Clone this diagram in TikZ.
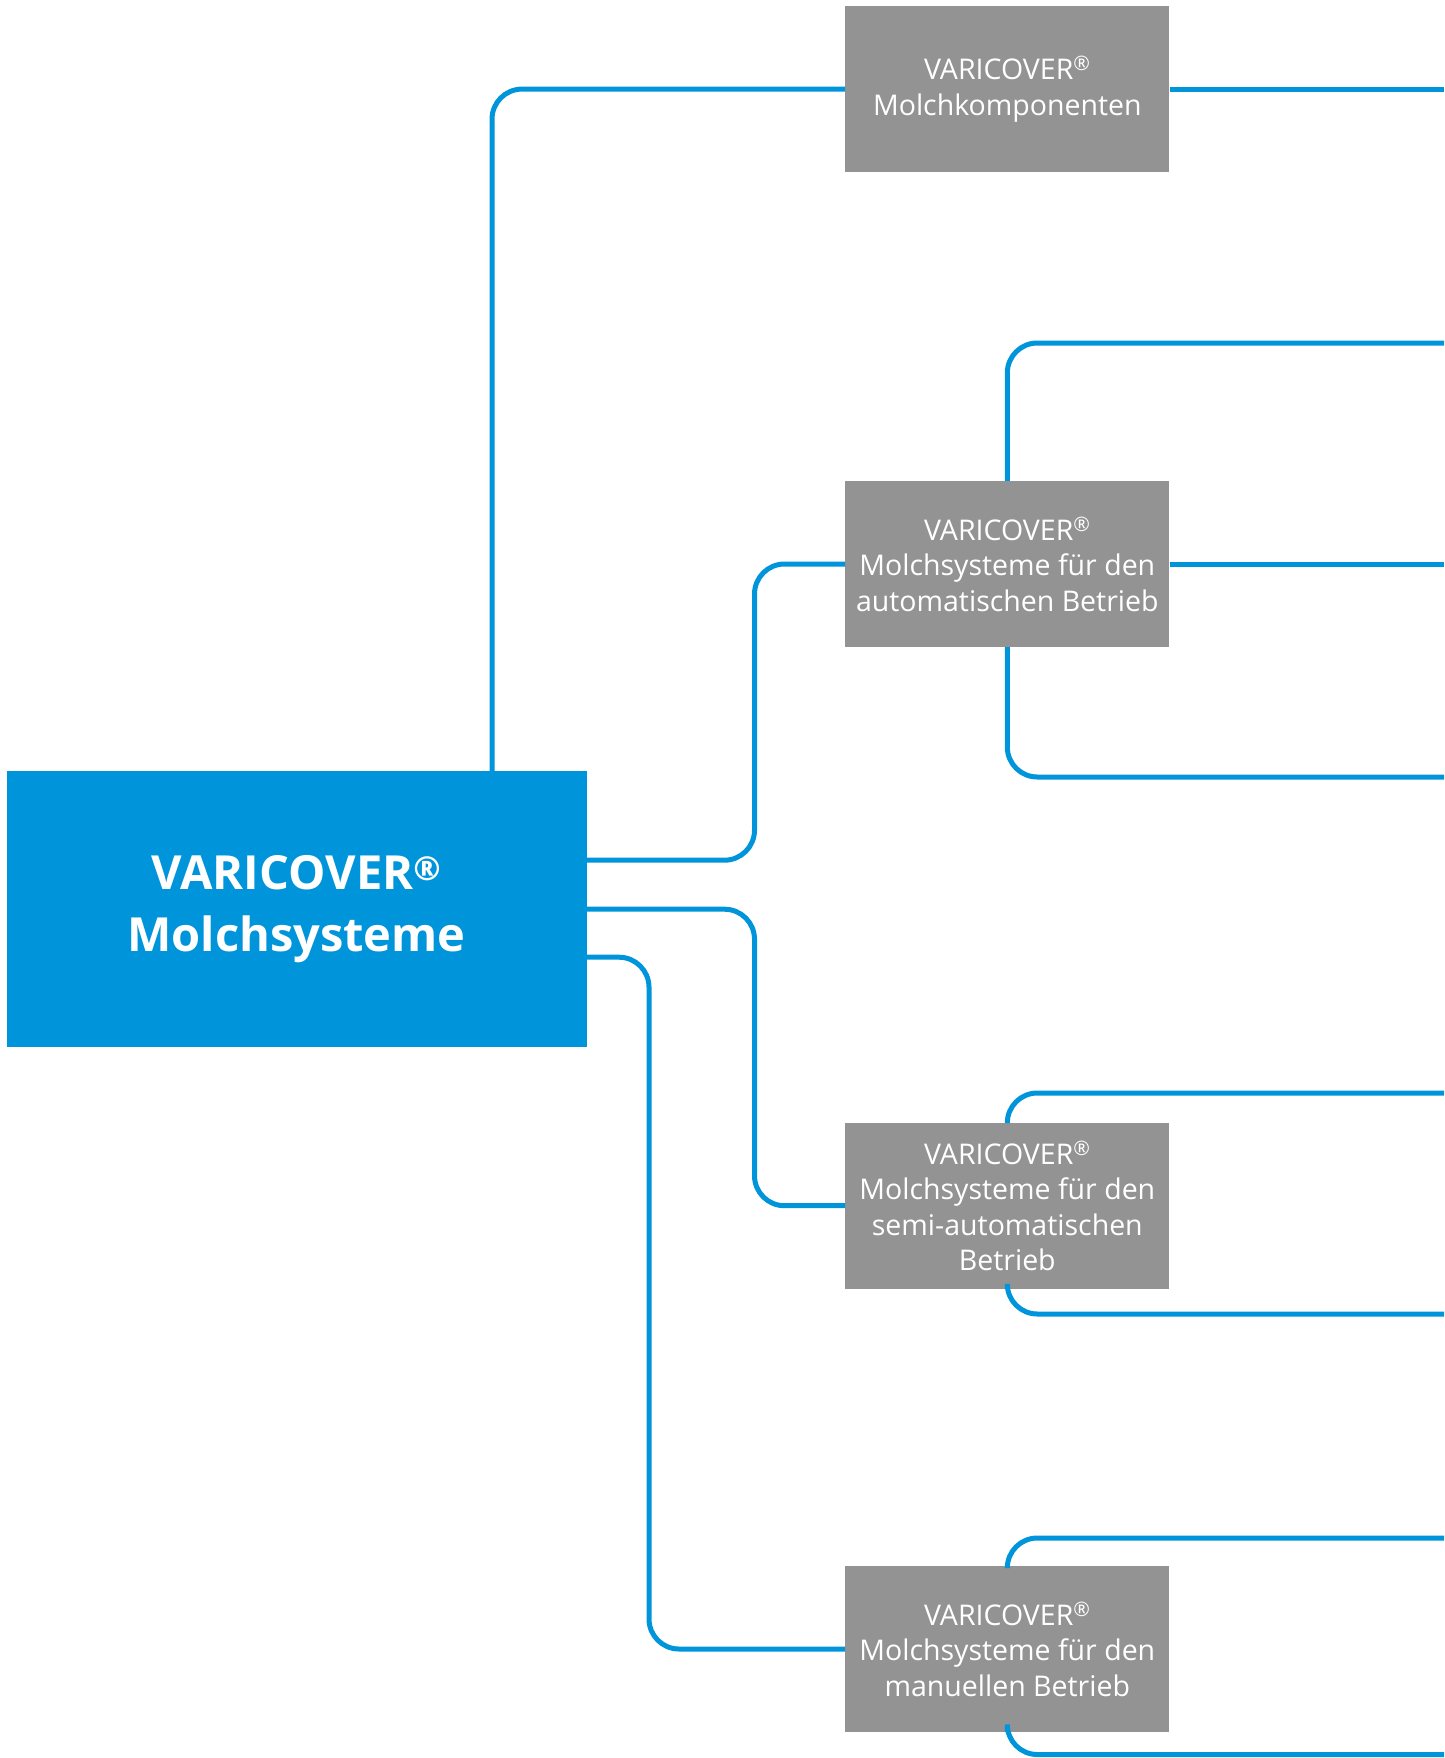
\documentclass[tikz,border=0pt]{standalone}
\usepackage{fontspec}
\setmainfont{Open Sans}
\usetikzlibrary{calc,%
		positioning}
\definecolor{varblau}{RGB}{0,149,218}
\definecolor{vargrau}{RGB}{147,147,147}
\newcommand{\reg}{\textsuperscript{®}}

\begin{document}
\begin{tikzpicture}[x=1pt,y=-1pt,
	kasten/.style={fill=vargrau,text=white,minimum width=324pt,minimum height=166pt,inner sep=0pt,align=center,font=\fontsize{28.5}{35.5}\selectfont},
	haupt/.style={fill=varblau,text=white,minimum width=580pt,minimum height=276pt,inner sep=0pt,align=center,font=\fontsize{47}{62}\selectfont\bfseries},
	linie/.style={draw=varblau,line width=5pt,rounded corners=30pt}]
\useasboundingbox (0,0) rectangle (1444,1758);

%i nodi
\node[haupt] (main) at(296.5,909.2){VARICOVER\reg\\Molchsysteme};
\node[kasten] (k1) at(1007.3,89.1){VARICOVER\reg\\Molchkomponenten};
\node[kasten] (k2) at(1007.3,564){VARICOVER\reg\\Molchsysteme für den\\automatischen Betrieb};
\node[kasten] (k3) at(1007.3,1205.7){VARICOVER\reg\\Molchsysteme für den\\semi-automatischen\\Betrieb};
\node[kasten] (k4) at(1007.3,1649){VARICOVER\reg\\Molchsysteme für den\\manuellen Betrieb};

%punti di appoggio
\coordinate (s1) at(492,0);
\coordinate (s2) at(754.5,0);
\coordinate (s3) at(649,0);
\coordinate (rand) at(1444,0);
\coordinate (o2) at(1444,343);
\coordinate (u2) at(1444,777);
\coordinate (o3) at(1444,1093);
\coordinate (u3) at(1444,1314);
\coordinate (o4) at(1444,1538);
\coordinate (u4) at(1444,1754.5);

%le linee dal centro
\draw[linie] (main.north -| s1) |- (k1.west);
\draw[linie] ([yshift=49pt]main.east) -| (s2 |- k2.west) -- (k2.west);
\draw[linie] (main.east) -| (s2 |- k3.west) -- (k3.west);
\draw[linie] ([yshift=-48pt]main.east) -| (s3 |- k4.west) -- (k4.west);

%le linee a destra
\draw[linie] (k1.east) -- (k1.east -| rand);
\draw[linie] (k2.east) -- (k2.east -| rand);
\draw[linie] (k2.north) |- (o2);
\draw[linie] (k2.south) |- (u2);
\draw[linie] (k3.north) |- (o3);
\draw[linie] (k3.south) |- (u3);
\draw[linie] (k4.north) |- (o4);
\draw[linie] (k4.south) |- (u4);

\end{tikzpicture}
\end{document}
